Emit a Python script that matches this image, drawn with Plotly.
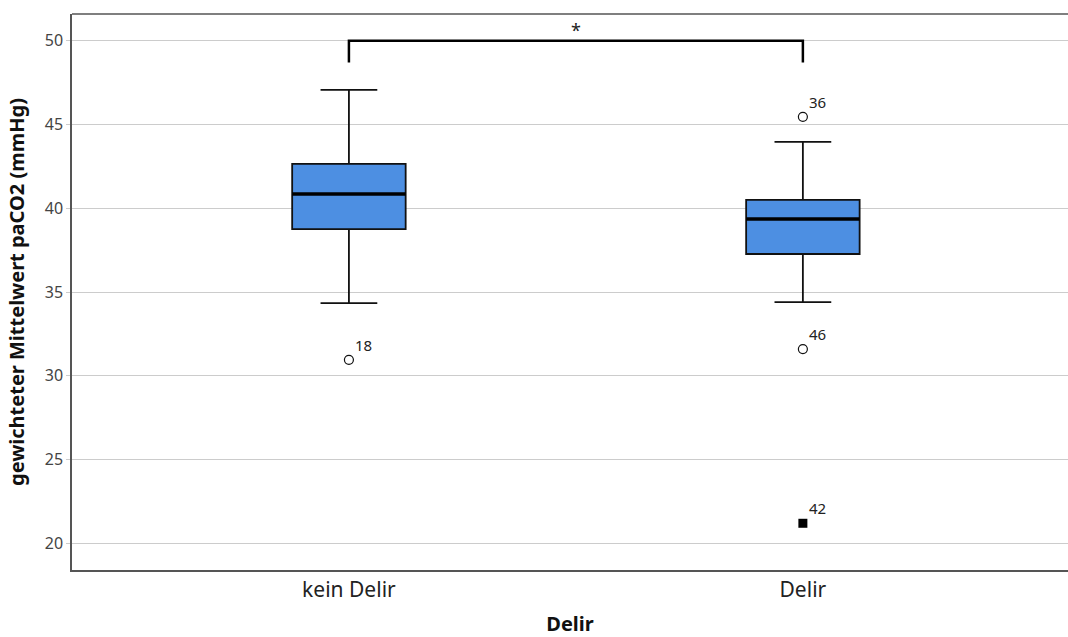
import plotly.graph_objects as go

categories = ["kein Delir", "Delir"]
q1 = [38.76, 37.27]
median = [40.85, 39.36]
q3 = [42.65, 40.50]
lower_whisker = [34.34, 34.40]
upper_whisker = [47.07, 43.96]

# outliers: (category index, value, case label)
outlier_cat = [0, 1, 1]
outlier_val = [30.95, 45.46, 31.59]
outlier_lbl = ["18", "36", "46"]
extreme_cat = [1]
extreme_val = [21.19]
extreme_lbl = ["42"]

bracket_y = 50.0
bracket_drop = 48.7
sig_label = "*"

box_fill = "#4d8fe2"
box_w = 0.25
font = "Noto Sans"

fig = go.Figure()
xs = list(range(len(categories)))

fig.add_trace(go.Box(
    x=xs, q1=q1, median=median, q3=q3,
    lowerfence=lower_whisker, upperfence=upper_whisker,
    width=box_w, whiskerwidth=0.5,
    fillcolor=box_fill, line=dict(color="#111111", width=1.8),
    boxpoints=False, hoverinfo="skip", showlegend=False,
))

# thick median lines
for i, m in enumerate(median):
    fig.add_trace(go.Scatter(
        x=[xs[i] - box_w / 2, xs[i] + box_w / 2], y=[m, m],
        mode="lines", line=dict(color="#000000", width=3.5),
        showlegend=False, hoverinfo="skip"))

# outliers
fig.add_trace(go.Scatter(
    x=[xs[c] for c in outlier_cat], y=outlier_val, mode="markers",
    marker=dict(symbol="circle-open", size=9, color="#111111", line=dict(width=1.2)),
    showlegend=False, hoverinfo="skip"))
fig.add_trace(go.Scatter(
    x=[xs[c] for c in extreme_cat], y=extreme_val, mode="markers",
    marker=dict(symbol="square", size=9, color="#000000"),
    showlegend=False, hoverinfo="skip"))

for c, v, t in list(zip(outlier_cat, outlier_val, outlier_lbl)) + list(zip(extreme_cat, extreme_val, extreme_lbl)):
    fig.add_annotation(x=xs[c], y=v, text=t, showarrow=False,
                       xanchor="left", yanchor="bottom", xshift=4, yshift=3,
                       font=dict(family=font, size=15, color="#222222"))

# significance bracket
fig.add_trace(go.Scatter(
    x=[xs[0], xs[0], xs[1], xs[1]], y=[bracket_drop, bracket_y, bracket_y, bracket_drop],
    mode="lines", line=dict(color="#000000", width=2.5),
    showlegend=False, hoverinfo="skip"))
fig.add_annotation(x=(xs[0] + xs[1]) / 2, y=bracket_y, text=sig_label, showarrow=False,
                   yanchor="bottom", yshift=-3, font=dict(family=font, size=18, color="#222222"))

# top frame line
fig.add_shape(type="line", xref="paper", yref="paper", x0=0, x1=1, y0=1, y1=1,
              line=dict(color="#555555", width=1.5))

fig.update_layout(
    width=1068, height=637,
    margin=dict(l=72, r=0, t=14, b=67),
    paper_bgcolor="white", plot_bgcolor="white",
    font=dict(family=font, color="#222222"),
    xaxis=dict(
        range=[-0.61, 1.584], tickvals=xs, ticktext=categories,
        showgrid=False, zeroline=False, showline=True, mirror=False,
        linecolor="#555555", linewidth=1.5, ticks="",
        tickfont=dict(family=font, size=21, color="#222222"),
        title=dict(text="<b>Delir</b>", font=dict(family=font, size=20, color="#111111"), standoff=19),
    ),
    yaxis=dict(
        range=[18.4, 51.6], tickvals=[20, 25, 30, 35, 40, 45, 50],
        showgrid=True, gridcolor="#cccccc", gridwidth=1, zeroline=False,
        showline=True, linecolor="#555555", linewidth=1.5,
        ticks="outside", ticklen=4, tickcolor="#cccccc",
        tickfont=dict(family=font, size=16, color="#444444"),
        title=dict(text="<b>gewichteter Mittelwert paCO2 (mmHg)</b>",
                   font=dict(family=font, size=20, color="#111111"), standoff=15),
    ),
)

fig.write_html("out.html", config={"displayModeBar": False},
               post_script="document.body.style.margin='0';document.body.style.overflow='hidden';")
